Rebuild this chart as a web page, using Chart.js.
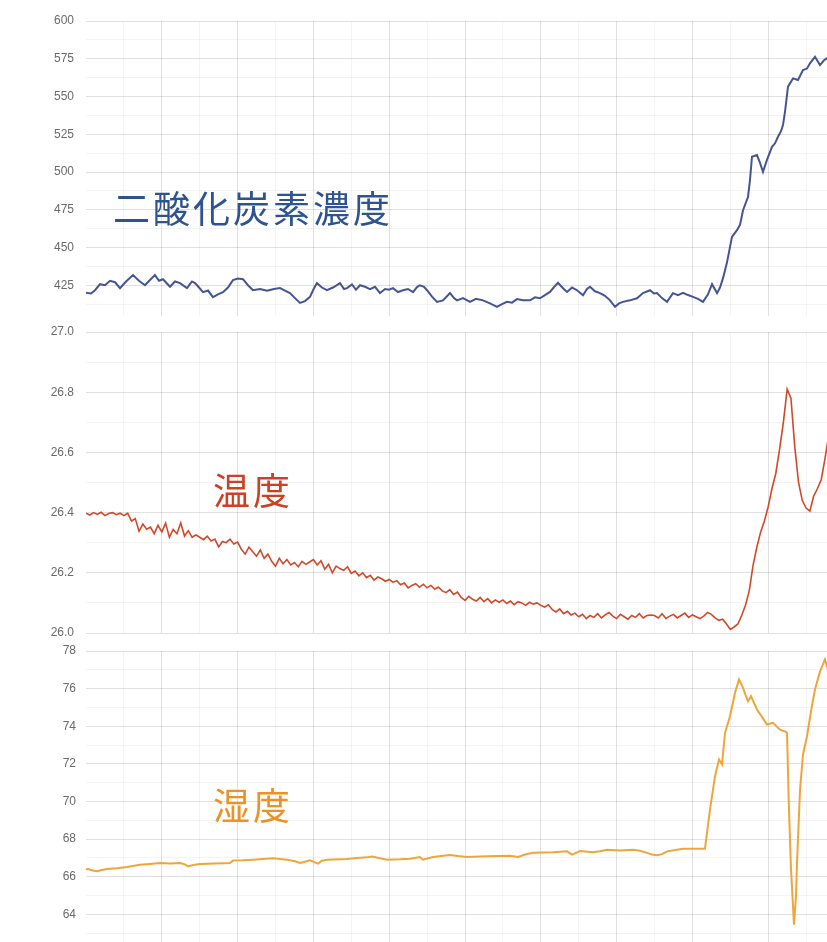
<!DOCTYPE html>
<html><head><meta charset="utf-8">
<script src="https://cdn.jsdelivr.net/npm/chart.js@4.4.1/dist/chart.umd.min.js"></script>
<style>
html,body{margin:0;padding:0;background:#fff;width:827px;height:942px;overflow:hidden;position:relative}
.panel{position:absolute;left:0;width:827px;overflow:hidden}
.panel canvas{position:absolute;left:0}
.title{position:absolute;font-family:"Noto Sans CJK JP","Noto Sans CJK SC",sans-serif;font-size:37px;line-height:37px;letter-spacing:3px;white-space:nowrap;font-weight:400}
</style></head><body>
<div class="panel" style="top:0;height:316px"><canvas id="c1" width="854" height="322" style="top:11px"></canvas></div>
<div class="panel" style="top:316px;height:321px"><canvas id="c2" width="854" height="321" style="top:6px"></canvas></div>
<div class="panel" style="top:638px;height:304px"><canvas id="c3" width="854" height="321" style="top:3px"></canvas></div>
<div class="title" id="t1" style="left:113px;top:189px;color:#2f5391"></div>
<div class="title" id="t2" style="left:213px;top:471px;color:#cc4024"></div>
<div class="title" id="t3" style="left:213px;top:786px;color:#ee9228"></div>
<script>
// ---- data (x = sample time, major grid every 10) ----
const titles = ['二酸化炭素濃度', '温度', '湿度'];

const co2X = [0,0.66,1.19,1.85,2.51,3.17,3.83,4.49,5.28,6.2,
6.99,7.78,8.44,9.1,9.63,10.16,11.08,11.74,12.4,13.32,
13.98,14.38,14.91,15.44,16.1,16.75,17.41,18.07,18.73,19.39,
20.05,20.71,21.37,22.03,22.96,23.88,24.8,25.59,26.25,26.91,
27.57,28.23,28.89,29.55,30.08,30.47,31.13,31.79,32.59,33.51,
34.04,34.43,35.09,35.62,36.15,36.81,37.47,38.13,38.79,39.45,
39.97,40.5,41.16,41.82,42.48,43.14,43.67,44.06,44.59,44.99,
45.65,46.31,47.1,48.02,48.55,48.94,49.74,50.66,51.45,52.37,
53.3,54.22,54.88,55.54,56.2,56.86,57.65,58.58,59.23,59.89,
60.55,61.21,61.87,62.27,62.93,63.46,64.12,64.78,65.57,66.09,
66.49,67.15,67.81,68.47,69.13,69.79,70.32,70.84,71.77,72.69,
73.48,74.41,74.93,75.33,75.99,76.65,77.44,78.1,78.76,79.42,
80.08,80.74,81.4,82.06,82.59,83.25,83.64,84.04,84.56,85.22,
85.88,86.28,86.68,87.34,87.6,87.86,88.52,88.92,89.31,89.84,
90.5,90.9,91.29,91.69,91.95,92.22,92.61,93.27,93.93,94.59,
95.12,95.51,96.17,96.83,97.36,97.76,98.15];
const co2Values = [420.0,419.5,421.7,425.7,425.0,427.9,427.0,423.1,427.5,431.7,
428.0,425.0,428.5,431.7,428.0,429.0,424.0,427.5,426.4,423.1,
427.5,426.4,423.5,420.4,421.5,417.1,419.0,420.4,423.5,428.4,
429.5,429.0,425.0,421.7,422.5,421.3,422.5,423.1,421.5,419.8,
416.5,413.3,414.5,417.3,423.0,426.4,423.5,421.7,423.5,426.4,
422.5,423.1,425.5,422.0,425.0,424.0,422.4,424.0,419.8,422.5,
422.0,423.1,420.5,421.7,422.5,420.4,423.8,425.0,424.0,421.7,
417.5,414.0,415.0,419.8,416.5,415.0,416.5,414.0,416.0,415.0,
413.0,410.7,412.5,414.0,413.5,415.8,415.0,415.0,417.0,416.4,
418.5,420.6,424.5,426.6,423.0,420.6,423.5,421.7,418.4,422.5,
424.0,421.0,419.8,418.0,415.0,410.7,413.0,414.0,415.0,416.4,
419.8,421.7,419.5,419.8,416.5,414.0,419.8,418.5,420.0,418.5,
417.3,416.0,414.0,419.0,425.7,419.8,423.5,429.7,440.0,457.0,
461.5,465.0,474.7,483.6,495.0,510.1,511.2,506.0,500.1,508.0,
516.7,519.0,523.3,527.0,531.1,540.0,556.5,562.0,560.9,567.5,
568.5,572.0,576.3,570.8,574.0,575.3,574.0];

const tempStep = 0.5; // temperature sampled every 0.5 time units
const tempValues = [26.398,26.392,26.400,26.394,26.401,26.390,26.397,26.400,26.393,26.398,
26.390,26.398,26.372,26.380,26.338,26.362,26.345,26.352,26.330,26.358,
26.336,26.365,26.318,26.344,26.330,26.366,26.322,26.340,26.318,26.326,
26.318,26.310,26.322,26.306,26.312,26.286,26.304,26.300,26.312,26.296,
26.302,26.278,26.262,26.285,26.270,26.255,26.276,26.248,26.262,26.238,
26.222,26.248,26.230,26.244,26.226,26.234,26.220,26.238,26.228,26.236,
26.244,26.226,26.240,26.212,26.228,26.200,26.222,26.214,26.208,26.220,
26.198,26.206,26.190,26.200,26.184,26.192,26.176,26.186,26.180,26.172,
26.178,26.168,26.174,26.160,26.166,26.150,26.158,26.164,26.152,26.162,
26.150,26.158,26.146,26.152,26.140,26.134,26.144,26.128,26.136,26.118,
26.108,26.122,26.112,26.106,26.118,26.104,26.114,26.100,26.110,26.102,
26.110,26.098,26.106,26.094,26.104,26.100,26.092,26.102,26.096,26.100,
26.092,26.086,26.094,26.078,26.070,26.080,26.064,26.072,26.060,26.066,
26.054,26.062,26.048,26.058,26.052,26.064,26.050,26.060,26.068,26.056,
26.048,26.062,26.054,26.046,26.058,26.052,26.064,26.050,26.058,26.060,
26.058,26.050,26.064,26.048,26.056,26.062,26.050,26.058,26.066,26.052,
26.060,26.054,26.048,26.056,26.068,26.062,26.050,26.042,26.046,26.030,
26.012,26.020,26.030,26.058,26.092,26.140,26.225,26.285,26.335,26.372,
26.42,26.48,26.53,26.61,26.70,26.81,26.78,26.62,26.50,26.44,
26.415,26.405,26.455,26.48,26.51,26.58,26.66];

const humX = [0,0.26,0.92,1.45,2.11,2.77,4.09,5.41,7.12,8.44,
9.76,11.08,12.4,13.06,13.46,14.12,15.04,17.02,19.0,19.39,
20.71,22.03,23.35,24.67,26.52,27.57,28.23,28.89,29.55,30.61,
31.13,31.79,34.43,35.75,37.07,37.73,38.79,39.71,41.42,42.74,
44.06,44.46,45.78,48.02,49.08,50.26,52.9,55.94,57.0,57.92,
58.97,61.61,63.46,64.12,65.17,66.89,67.81,68.73,70.45,72.16,
73.09,74.01,74.67,75.33,75.99,76.65,78.76,81.66,82.32,82.98,
83.51,83.91,84.3,84.96,85.62,86.15,86.68,87.07,87.34,87.73,
88.52,89.18,89.84,90.63,91.56,92.35,92.48,92.74,93.0,93.4,
93.67,93.8,94.2,94.59,95.12,95.65,96.17,96.83,97.49,97.76,
98.15];
const humValues = [66.40,66.41,66.33,66.29,66.36,66.41,66.45,66.52,66.64,66.68,
66.73,66.70,66.73,66.66,66.55,66.62,66.68,66.70,66.73,66.87,
66.88,66.91,66.94,66.98,66.91,66.82,66.73,66.80,66.87,66.70,
66.85,66.91,66.95,67.00,67.03,67.07,66.98,66.91,66.93,66.96,
67.05,66.91,67.05,67.16,67.10,67.05,67.09,67.12,67.05,67.18,
67.27,67.30,67.35,67.18,67.37,67.30,67.36,67.44,67.39,67.44,
67.38,67.27,67.18,67.14,67.20,67.35,67.49,67.49,69.57,71.34,
72.23,71.97,73.65,74.53,75.78,76.48,76.04,75.60,75.33,75.60,
74.89,74.50,74.09,74.18,73.82,73.70,73.65,69.57,66.5,63.45,
65.0,66.73,70.63,72.50,73.47,74.80,75.95,76.90,77.55,77.19,
77.50];

// ---- chart construction ----
const MAJOR = 'rgba(0,0,0,0.12)';
const MINOR = 'rgba(0,0,0,0.045)';

function pairs(xs, ys) { return ys.map((y, i) => ({ x: xs[i], y })); }

function makeChart(id, data, color, lw, yMin, yMax, yStep, isMajor, fmt, labelPad) {
  return new Chart(document.getElementById(id), {
    type: 'line',
    data: { datasets: [{ data, borderColor: color, borderWidth: lw, pointRadius: 0, tension: 0, fill: false }] },
    options: {
      responsive: false, maintainAspectRatio: false, animation: false,
      layout: { padding: { top: 10, bottom: 10, left: 0, right: 10 } },
      plugins: { legend: { display: false }, tooltip: { enabled: false } },
      scales: {
        x: {
          type: 'linear', min: 0, max: 100,
          ticks: { display: false, stepSize: 5 },
          border: { display: false },
          grid: { drawTicks: false, color: c => c.tick.value === 0 ? 'rgba(0,0,0,0)' : (c.tick.value % 10 === 0 ? MAJOR : MINOR) }
        },
        y: {
          min: yMin, max: yMax,
          afterFit: s => { s.width = 86; s.paddingTop = 0; s.paddingBottom = 0; },
          border: { display: false },
          grid: { drawTicks: false, color: c => isMajor(c.tick.value) ? MAJOR : MINOR },
          ticks: {
            stepSize: yStep, autoSkip: false, padding: labelPad, color: '#6a6a6a',
            font: { family: 'Liberation Sans, Arial, sans-serif', size: 12 },
            callback: v => isMajor(v) ? fmt(v) : ''
          }
        }
      }
    }
  });
}

makeChart('c1', pairs(co2X, co2Values), '#455592', 2, 400, 600, 12.5,
  v => Math.abs(v % 25) < 1e-6, v => String(v), 12);

const tempX = tempValues.map((_, i) => i * tempStep);
makeChart('c2', pairs(tempX, tempValues), '#d2482a', 1.6, 26.0, 27.0, 0.1,
  v => Math.round(v * 10) % 2 === 0, v => v.toFixed(1), 12);

makeChart('c3', pairs(humX, humValues), '#f0a53a', 2, 62, 78, 1,
  v => Math.round(v) % 2 === 0, v => String(Math.round(v)), 10);

document.getElementById('t1').textContent = titles[0];
document.getElementById('t2').textContent = titles[1];
document.getElementById('t3').textContent = titles[2];
</script>
</body></html>
